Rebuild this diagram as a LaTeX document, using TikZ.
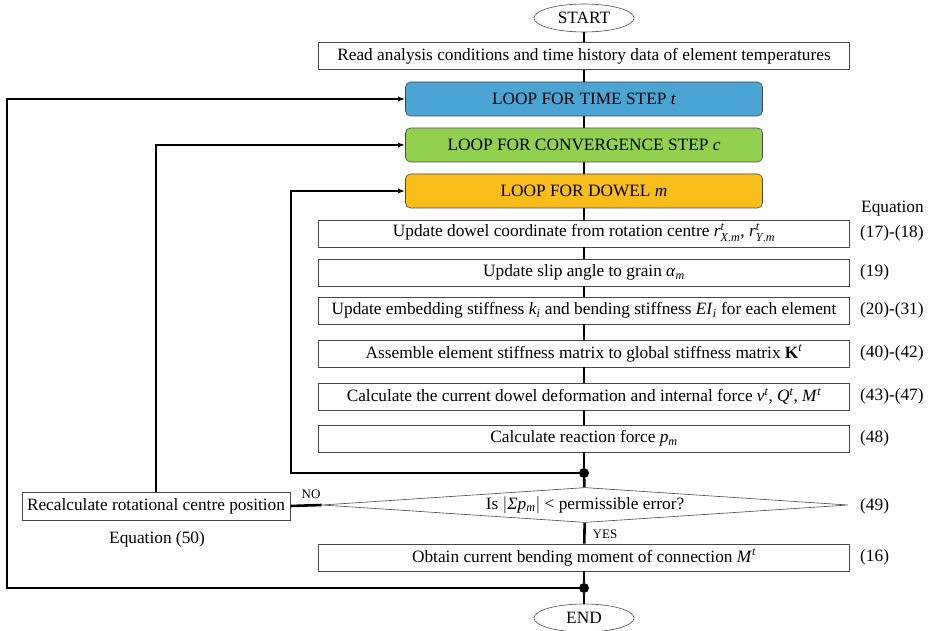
\documentclass[tikz,border=0pt]{standalone}
\usepackage{amsmath}
\usepackage{fontspec}
\setmainfont{Liberation Serif}
\usetikzlibrary{arrows.meta,shapes.geometric,calc}
\definecolor{cblue}{RGB}{74,165,212}
\definecolor{cgreen}{RGB}{146,208,80}
\definecolor{corange}{RGB}{249,190,26}
\definecolor{cborder}{RGB}{70,70,70}
\newcommand{\im}[1]{\textit{#1}}
\begin{document}
\begin{tikzpicture}[x=1pt,y=-1pt,
  every node/.style={font=\fontsize{17.3}{19}\selectfont},
  ovalbox/.style={draw=cborder,ellipse,minimum width=100pt,minimum height=28pt,inner sep=0pt,line width=0.6pt},
  stepbox/.style={draw=cborder,rectangle,minimum width=531pt,minimum height=27pt,inner sep=0pt,line width=0.6pt,fill=white},
  loopbox/.style={draw=cborder,rounded corners=5pt,minimum width=357pt,minimum height=34pt,inner sep=0pt,line width=0.6pt},
  eqlab/.style={anchor=west,inner sep=0pt},
  trunk/.style={line width=2.6pt},
  loopline/.style={line width=2.6pt},
  thinloop/.style={line width=1.6pt},
  arr/.style={-{Latex[length=7pt,width=5pt]}},
  dotnode/.style={circle,fill=black,inner sep=0pt,minimum size=10pt},
  smalllab/.style={font=\fontsize{13}{14}\selectfont,inner sep=0pt}
]
\useasboundingbox (0,0) rectangle (937,631);
% nodes
\node[ovalbox] (start) at (584,18) {START};
\node[stepbox] (read) at (584,56) {Read analysis conditions and time history data of element temperatures};
\node[loopbox,fill=cblue] (time) at (584,99) {LOOP FOR TIME STEP \im{t}};
\node[loopbox,fill=cgreen] (conv) at (584,145) {LOOP FOR CONVERGENCE STEP \im{c}};
\node[loopbox,fill=corange] (dowel) at (584,191) {LOOP FOR DOWEL \im{m}};
\node[stepbox] (s1) at (584,233.5) {Update dowel coordinate from rotation centre \im{r}$^{\im{t}}_{\im{X},\im{m}}$, \im{r}$^{\im{t}}_{\im{Y},\im{m}}$};
\node[stepbox] (s2) at (584,272.5) {Update slip angle to grain \im{α}$_{\im{m}}$};
\node[stepbox] (s3) at (584,310.5) {Update embedding stiffness \im{k}$_{\im{i}}$ and bending stiffness \im{EI}$_{\im{i}}$ for each element};
\node[stepbox] (s4) at (584,353.5) {Assemble element stiffness matrix to global stiffness matrix \textbf{K}$^{\im{t}}$};
\node[stepbox] (s5) at (584,396.5) {Calculate the current dowel deformation and internal force \im{v}$^{\im{t}}$, \im{Q}$^{\im{t}}$, \im{M}$^{\im{t}}$};
\node[stepbox] (s6) at (584,438.5) {Calculate reaction force \im{p}$_{\im{m}}$};
\node[dotnode] (d1) at (584,473) {};
\node[draw=cborder,diamond,minimum width=526pt,minimum height=35pt,inner sep=0pt,aspect=15,line width=0.6pt] (dec) at (585,505) {Is $|$\im{Σp}$_{\im{m}}|$ {<} permissible error?};
\node[stepbox,minimum width=268pt,minimum height=28pt] (recalc) at (156,506) {Recalculate rotational centre position};
\node[stepbox] (obt) at (584,557.5) {Obtain current bending moment of connection \im{M}$^{\im{t}}$};
\node[dotnode] (d2) at (584,588) {};
\node[ovalbox] (end) at (584,618) {END};
% equation labels
\node[anchor=base west,inner sep=0pt] (eqh) at (861,213) {Equation};
\node[eqlab] (e1) at (860,233.5) {(17)-(18)};
\node[eqlab] (e2) at (860,272.5) {(19)};
\node[eqlab] (e3) at (860,310.5) {(20)-(31)};
\node[eqlab] (e4) at (860,353.5) {(40)-(42)};
\node[eqlab] (e5) at (860,396.5) {(43)-(47)};
\node[eqlab] (e6) at (860,438.5) {(48)};
\node[eqlab] (e7) at (860,506) {(49)};
\node[eqlab] (e8) at (860,557.5) {(16)};
\node[inner sep=0pt] (eq50) at (157,539) {Equation (50)};
\node[smalllab] (no) at (311,494) {NO};
\node[smalllab] (yes) at (605,534) {YES};
% coordinates
\coordinate (c1) at (291,473);
\coordinate (c2) at (7,588);
% trunk
\draw[trunk] (start) -- (read);
\draw[trunk] (read) -- (time);
\draw[trunk] (time) -- (conv);
\draw[trunk] (conv) -- (dowel);
\draw[trunk] (dowel) -- (s1);
\draw[trunk] (s1) -- (s2);
\draw[trunk] (s2) -- (s3);
\draw[trunk] (s3) -- (s4);
\draw[trunk] (s4) -- (s5);
\draw[trunk] (s5) -- (s6);
\draw[trunk] (s6) -- (d1);
\draw[trunk] (d1) -- (dec);
\draw[trunk] (dec) -- (obt);
\draw[trunk] (obt) -- (d2);
\draw[trunk] (d2) -- (end);
% loops
\draw[loopline,arr] (d1.center) -- (c1) |- (dowel.west);
\draw[loopline] (dec.west) -- (recalc.east);
\draw[thinloop,arr] (recalc.north) |- (conv.west);
\draw[loopline,arr] (d2.center) -- (c2) |- (time.west);
\end{tikzpicture}
\end{document}
